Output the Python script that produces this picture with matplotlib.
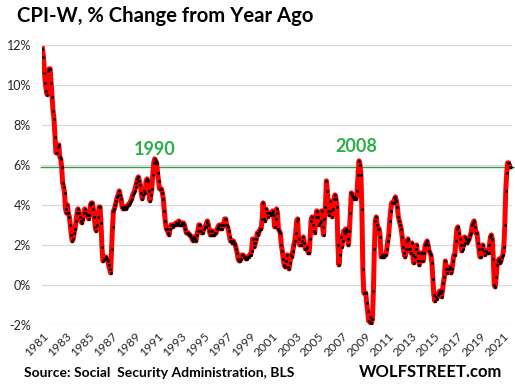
import matplotlib
matplotlib.use("Agg")
import matplotlib.pyplot as plt
import numpy as np

# CPI-W, % change from a year earlier, monthly, Jan 1981 .. Sep 2021
cpi_w_1980s = [
    11.8, 11.4, 10.6, 10.1, 9.7, 9.5, 10.7, 10.8, 10.8, 10.1, 9.4, 8.7,   # 1981
    8.3, 7.4, 6.6, 6.6, 6.9, 7.0, 6.4, 6.3, 5.9, 5.1, 4.9, 4.6,           # 1982
    3.8, 3.6, 4.0, 3.6, 3.4, 3.0, 2.5, 2.2, 2.3, 2.6, 2.8, 3.2,           # 1983
    3.6, 3.8, 3.6, 3.4, 3.2, 3.1, 3.3, 3.6, 3.8, 3.6, 3.5, 3.5,           # 1984
    3.3, 3.5, 4.0, 4.1, 4.1, 3.8, 3.4, 2.9, 2.7, 3.0, 3.4, 3.9,           # 1985
    3.9, 3.1, 1.9, 1.2, 1.3, 1.3, 1.4, 1.3, 1.2, 1.0, 0.8, 0.6,           # 1986
    1.8, 2.9, 3.7, 3.8, 4.0, 4.2, 4.4, 4.5, 4.7, 4.5, 4.3, 3.9,           # 1987
    3.8, 3.8, 3.9, 3.8, 3.9, 4.0, 4.0, 4.1, 4.2, 4.3, 4.5, 4.6,           # 1988
    4.7, 4.9, 5.1, 5.3, 5.4, 5.2, 5.0, 4.6, 4.3, 4.5, 4.7, 4.6,           # 1989
]
cpi_w_1990s = [
    5.2, 5.3, 5.2, 4.7, 4.2, 4.5, 4.8, 5.5, 6.1, 6.3, 6.2, 6.1,           # 1990
    5.6, 5.2, 4.8, 4.8, 4.8, 4.6, 4.3, 3.7, 3.2, 2.8, 2.8, 2.6,           # 1991
    2.5, 2.8, 3.0, 3.0, 2.9, 3.0, 3.0, 3.1, 3.0, 3.1, 3.2, 3.0,           # 1992
    3.0, 3.1, 3.0, 3.1, 3.0, 2.8, 2.6, 2.6, 2.6, 2.5, 2.5, 2.4,           # 1993
    2.3, 2.2, 2.4, 2.3, 2.2, 2.5, 2.7, 3.0, 3.0, 2.7, 2.6, 2.6,           # 1994
    2.8, 2.9, 2.9, 3.1, 3.2, 3.0, 2.7, 2.5, 2.5, 2.7, 2.5, 2.5,           # 1995
    2.6, 2.6, 2.8, 2.9, 3.0, 2.8, 3.0, 2.8, 3.0, 3.0, 3.3, 3.3,           # 1996
    3.0, 2.9, 2.7, 2.4, 2.2, 2.2, 2.1, 2.2, 2.1, 2.0, 1.8, 1.6,           # 1997
    1.3, 1.2, 1.2, 1.3, 1.5, 1.5, 1.4, 1.4, 1.3, 1.3, 1.4, 1.4,           # 1998
    1.5, 1.5, 1.7, 2.3, 2.1, 1.9, 2.1, 2.3, 2.6, 2.5, 2.7, 2.8,           # 1999
]
cpi_w_2000s = [
    2.8, 3.3, 4.1, 3.3, 3.2, 3.8, 3.6, 3.4, 3.6, 3.6, 3.5, 3.6,           # 2000
    3.7, 3.5, 2.9, 3.3, 3.8, 3.6, 2.8, 2.7, 2.6, 2.0, 1.7, 1.3,           # 2001
    1.0, 0.9, 1.2, 1.5, 0.9, 0.8, 1.1, 1.5, 1.4, 1.7, 2.0, 2.2,           # 2002
    2.6, 3.2, 3.3, 2.3, 2.0, 2.0, 2.0, 2.2, 2.4, 2.1, 1.8, 1.8,           # 2003
    1.9, 1.6, 1.6, 2.3, 3.2, 3.4, 3.0, 2.7, 2.6, 3.4, 3.7, 3.4,           # 2004
    3.0, 3.1, 3.2, 3.7, 2.9, 2.5, 3.3, 3.9, 5.2, 4.7, 3.7, 3.5,           # 2005
    4.2, 3.7, 3.4, 3.8, 4.3, 4.5, 4.3, 3.9, 2.0, 1.0, 1.5, 2.4,           # 2006
    1.9, 2.2, 2.7, 2.6, 2.8, 2.7, 2.3, 2.0, 2.7, 3.6, 4.6, 4.5,           # 2007
    4.4, 4.3, 4.4, 4.3, 4.7, 5.5, 6.2, 6.0, 5.5, 3.8, 0.8, -0.4,          # 2008
    -0.4, -0.4, -0.9, -1.3, -1.8, -1.6, -1.9, -1.9, -1.7, -0.3, 1.8, 3.2, # 2009
]
cpi_w_2010s = [
    3.4, 3.0, 2.8, 2.8, 2.4, 1.4, 1.5, 1.4, 1.4, 1.5, 1.5, 1.8,           # 2010
    2.2, 2.5, 3.2, 3.7, 4.1, 4.1, 4.1, 4.3, 4.4, 4.2, 3.9, 3.4,           # 2011
    3.2, 3.0, 2.8, 2.4, 1.9, 1.6, 1.4, 1.8, 2.2, 2.3, 1.8, 1.8,           # 2012
    1.6, 2.1, 1.5, 1.1, 1.4, 1.8, 2.0, 1.6, 1.2, 1.0, 1.2, 1.6,           # 2013
    1.6, 1.2, 1.6, 2.0, 2.1, 2.2, 2.0, 1.7, 1.6, 1.5, 1.1, 0.3,           # 2014
    -0.5, -0.8, -0.6, -0.7, -0.5, -0.4, -0.3, -0.4, -0.6, -0.3, 0.1, 0.4, # 2015
    1.2, 0.8, 0.6, 0.8, 0.8, 0.9, 0.6, 0.8, 1.2, 1.5, 1.5, 2.2,           # 2016
    2.8, 2.9, 2.6, 2.3, 2.0, 1.7, 1.8, 2.0, 2.4, 2.1, 2.3, 2.1,           # 2017
    2.2, 2.3, 2.5, 2.6, 3.0, 3.1, 3.2, 2.9, 2.6, 2.6, 2.1, 1.8,           # 2018
    1.4, 1.4, 1.8, 2.0, 1.7, 1.5, 1.7, 1.6, 1.6, 1.6, 2.0, 2.4,           # 2019
]
cpi_w_2020s = [
    2.5, 2.3, 1.3, 0.0, -0.1, 0.4, 1.0, 1.2, 1.3, 1.1, 1.2, 1.4,          # 2020
    1.5, 1.9, 3.0, 4.7, 5.6, 6.1, 6.1, 5.9, 5.9,                          # 2021
]

tick_years = list(range(1981, 2022, 2))
y_ticks = [-2, 0, 2, 4, 6, 8, 10, 12]
cola_2022 = 5.9
peaks = [("1990", 117, 6.49), ("2008", 327.5, 6.66)]

values = cpi_w_1980s + cpi_w_1990s + cpi_w_2000s + cpi_w_2010s + cpi_w_2020s
months = np.arange(len(values))

W, H = 515, 386
fig = plt.figure(figsize=(W / 100, H / 100), dpi=100)
fig.patch.set_facecolor("white")
ax = fig.add_axes([42 / W, 1 - 325 / H, 470 / W, (325 - 44.7) / H])

font = "Lato"
text_color = "#262626"
peak_green = "#2aae4a"

for y in y_ticks:
    ax.axhline(y, color="#d9d9d9", lw=0.9, zorder=0)
ax.axhline(cola_2022, color="#3a9a45", lw=1.0, xmin=-0.003, xmax=1.008, clip_on=False, zorder=1)

ax.plot(months, values, color="#ff0000", lw=3.6, solid_joinstyle="round", zorder=2)
ax.plot(months, values, ls="none", marker="o", ms=2.1, mew=0, color="black", zorder=3)

for label, mx, my in peaks:
    ax.text(mx, my, label, color=peak_green, fontsize=13, fontweight="bold",
            family=font, ha="center", va="baseline")

ax.set_xlim(-0.5, len(values) + 0.5)
ax.set_ylim(-2, 12)
ax.set_xticks([(yr - 1981) * 12 for yr in tick_years])
ax.set_xticklabels([str(yr) for yr in tick_years], rotation=45, ha="right",
                   rotation_mode="anchor", family=font, fontsize=8.8, color=text_color)
ax.set_yticks(y_ticks)
ax.set_yticklabels([f"{v}%" for v in y_ticks], family=font, fontsize=9, color=text_color)
ax.tick_params(axis="both", length=0)
ax.tick_params(axis="y", pad=8)
ax.tick_params(axis="x", pad=4)
for side in ["top", "right", "bottom", "left"]:
    ax.spines[side].set_visible(False)

fig.text(17 / W, 1 - 21.7 / H, "CPI-W, % Change from Year Ago", family=font,
         fontsize=14.6, fontweight="bold", color="black", va="baseline", ha="left")
fig.text(24 / W, 1 - 376.7 / H, "Source: Social  Security Administration, BLS", family=font,
         fontsize=10.0, fontweight="bold", color="black", va="baseline", ha="left")
fig.text(502 / W, 1 - 376.7 / H, "WOLFSTREET.com", family=font,
         fontsize=12.0, fontweight="bold", color="black", va="baseline", ha="right")

fig.savefig("out.png", dpi=100)
